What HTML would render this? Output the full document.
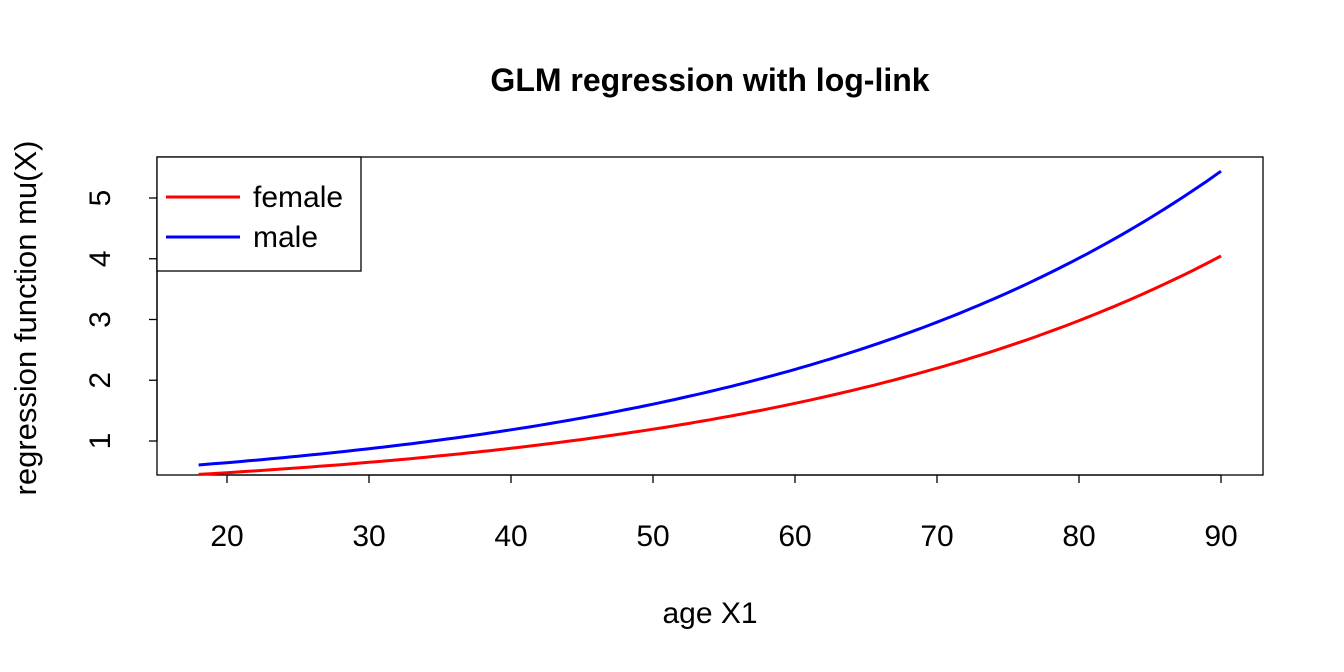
<!DOCTYPE html>
<html><head><style>body{margin:0;background:#fff}svg{display:block}text{font-family:"Liberation Sans",Arial,sans-serif;fill:#000}</style></head>
<body>
<svg id="s" width="1344" height="672" viewBox="0 0 1344 672">
<text x="710" y="91" font-size="32" font-weight="bold" text-anchor="middle">GLM regression with log-link</text>
<rect x="157" y="157" width="1106" height="318" fill="none" stroke="#000" stroke-width="1.3"/>
<g stroke="#000" stroke-width="1.3" id="ticks"></g>
<g font-size="30" text-anchor="middle" id="xl"></g>
<g font-size="30" text-anchor="middle" id="yl"></g>
<text x="710" y="623" font-size="30" text-anchor="middle">age X1</text>
<text transform="translate(36,318) rotate(-90)" font-size="31" text-anchor="middle">regression function mu(X)</text>
<path id="f" fill="none" stroke="#ff0000" stroke-width="3"/>
<path id="m" fill="none" stroke="#0000ff" stroke-width="3"/>
<rect x="157" y="157" width="204" height="114" fill="#fff" stroke="#000" stroke-width="1.3"/>
<line x1="166" y1="197" x2="240" y2="197" stroke="#ff0000" stroke-width="3"/>
<line x1="166" y1="237" x2="240" y2="237" stroke="#0000ff" stroke-width="3"/>
<text x="253" y="207" font-size="30">female</text>
<text x="253" y="247" font-size="30">male</text>
</svg>
<script>
var X=a=>227+(a-20)*14.2,Y=v=>441-(v-1)*60.75,ns="http://www.w3.org/2000/svg";
function el(p,t,at,tx){var e=document.createElementNS(ns,t);for(var k in at)e.setAttribute(k,at[k]);if(tx)e.textContent=tx;document.getElementById(p).appendChild(e);}
for(var a=20;a<=90;a+=10){el("ticks","line",{x1:X(a),x2:X(a),y1:475,y2:483});el("xl","text",{x:X(a),y:546},a);}
el("ticks","line",{x1:X(20),x2:X(90),y1:475,y2:475});
for(var v=1;v<=5;v++){el("ticks","line",{x1:149,x2:157,y1:Y(v),y2:Y(v)});el("yl","text",{transform:"translate(110,"+Y(v)+") rotate(-90)"},v);}
el("ticks","line",{x1:157,x2:157,y1:Y(1),y2:Y(5)});
function p(c){var d="";for(var a=18;a<=90;a+=0.5){var v=c*0.45*Math.exp(0.0305*(a-18));d+=(d?"L":"M")+X(a).toFixed(1)+","+Y(v).toFixed(1);}return d;}
document.getElementById("f").setAttribute("d",p(1));
document.getElementById("m").setAttribute("d",p(1.345));
</script>
</body></html>
